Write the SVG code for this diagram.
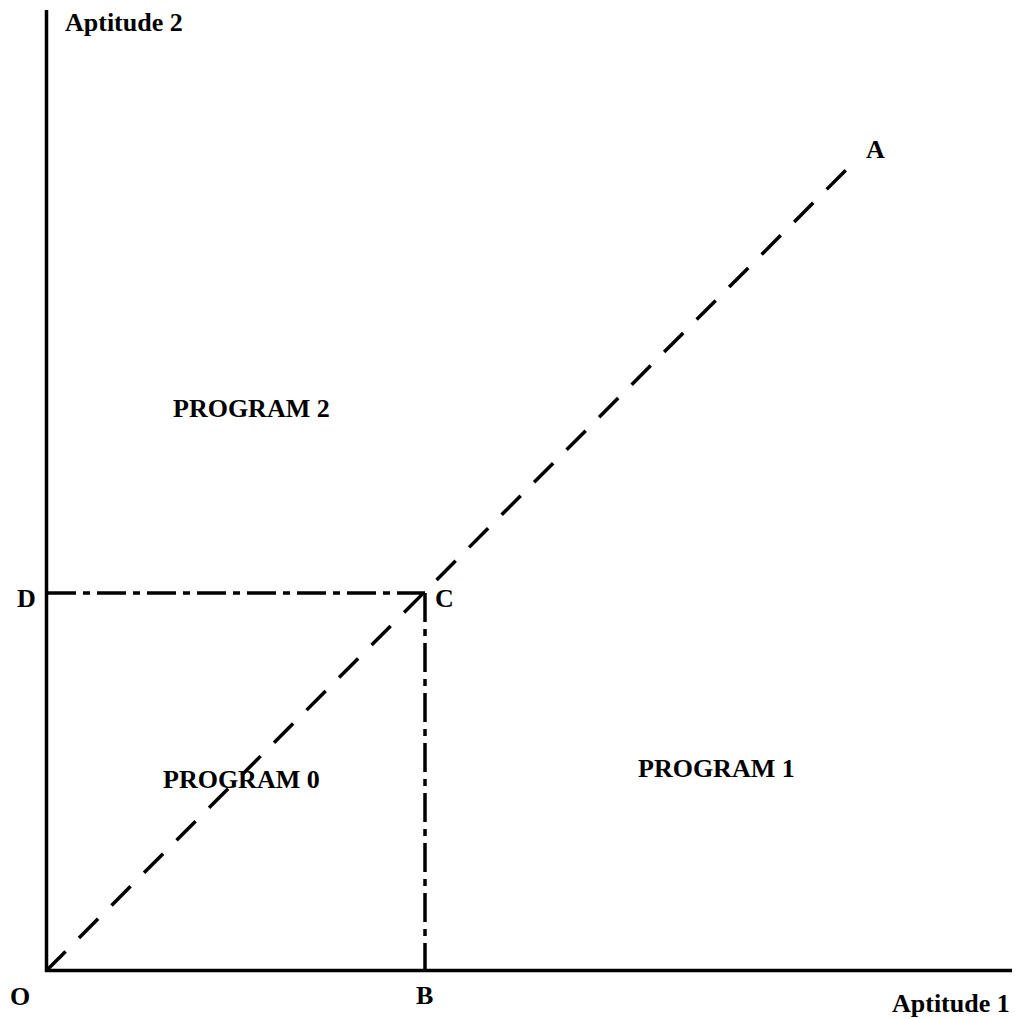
<svg xmlns="http://www.w3.org/2000/svg" width="1021" height="1019" viewBox="0 0 1021 1019">
<style>
.lbl{font-family:"Liberation Serif","Times New Roman",serif;font-weight:bold;font-size:26px;fill:#000}
.axis{stroke:#000;stroke-width:3.5;fill:none}
.dash{stroke:#000;stroke-width:3.5;fill:none;stroke-dasharray:27 19}
.dashdot{stroke:#000;stroke-width:3.5;fill:none;stroke-dasharray:29 7 7 7}
</style>
<rect width="1021" height="1019" fill="#fff"/>
<g id="connectors">
<line class="axis" x1="46.5" y1="10" x2="46.5" y2="972"/>
<line class="axis" x1="45" y1="970.5" x2="1012" y2="970.5"/>
<line class="dash" x1="46.5" y1="970.5" x2="848" y2="168"/>
<line class="dashdot" x1="47" y1="593" x2="425" y2="593"/>
<line class="dashdot" x1="425" y1="593" x2="425" y2="970"/>
</g>
<g id="label-aptitude2"><text class="lbl" x="65" y="31">Aptitude 2</text></g>
<g id="label-aptitude1"><text class="lbl" x="892" y="1012">Aptitude 1</text></g>
<g id="label-A"><text class="lbl" x="866" y="158">A</text></g>
<g id="label-C"><text class="lbl" x="435" y="607">C</text></g>
<g id="label-D"><text class="lbl" x="17" y="607">D</text></g>
<g id="label-O"><text class="lbl" x="10" y="1005">O</text></g>
<g id="label-B"><text class="lbl" x="416" y="1004">B</text></g>
<g id="program2"><text class="lbl" x="173" y="417">PROGRAM 2</text></g>
<g id="program0"><text class="lbl" x="163" y="788">PROGRAM 0</text></g>
<g id="program1"><text class="lbl" x="638" y="777">PROGRAM 1</text></g>
</svg>
